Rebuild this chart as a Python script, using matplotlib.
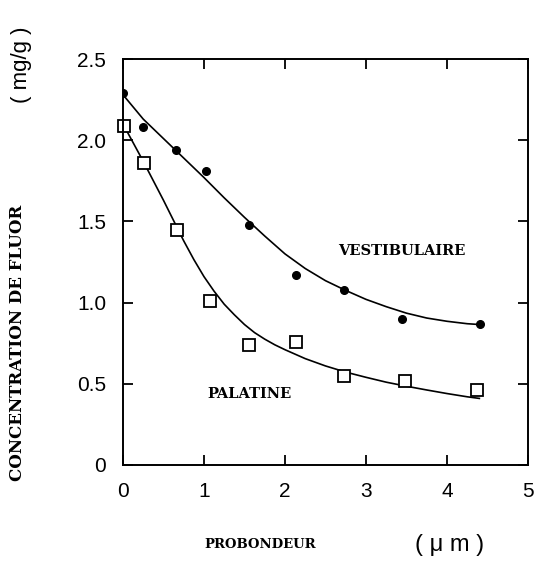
import numpy as np
import matplotlib
matplotlib.use("Agg")
import matplotlib.pyplot as plt

# mesures (points)
x_vest = [0.0, 0.25, 0.65, 1.03, 1.55, 2.13, 2.73, 3.45, 4.41]
y_vest = [2.29, 2.08, 1.94, 1.81, 1.48, 1.17, 1.08, 0.90, 0.87]

x_pal = [0.01, 0.26, 0.67, 1.07, 1.56, 2.14, 2.73, 3.48, 4.37]
y_pal = [2.09, 1.86, 1.45, 1.01, 0.74, 0.76, 0.55, 0.52, 0.46]

# courbes lissees
x_curve_vest = [0.0, 0.25, 0.5, 0.75, 1.0, 1.25, 1.5, 1.75, 2.0, 2.25,
                2.5, 2.75, 3.0, 3.25, 3.5, 3.75, 4.0, 4.25, 4.4]
y_curve_vest = [2.28, 2.13, 2.01, 1.89, 1.77, 1.645, 1.525, 1.41, 1.30, 1.21,
                1.135, 1.075, 1.02, 0.975, 0.935, 0.905, 0.885, 0.87, 0.865]

x_curve_pal = [0.0, 0.125, 0.25, 0.375, 0.5, 0.625, 0.75, 0.875, 1.0, 1.125,
               1.25, 1.375, 1.5, 1.625, 1.75, 1.875, 2.0, 2.25, 2.5, 2.75,
               3.0, 3.25, 3.5, 3.75, 4.0, 4.25, 4.4]
y_curve_pal = [2.10, 1.985, 1.87, 1.75, 1.63, 1.505, 1.38, 1.265, 1.16, 1.07,
               0.99, 0.925, 0.865, 0.815, 0.775, 0.74, 0.71, 0.655, 0.61, 0.572,
               0.54, 0.51, 0.485, 0.462, 0.44, 0.42, 0.41]

x_ticks = [0, 1, 2, 3, 4, 5]
y_ticks = [0, 0.5, 1.0, 1.5, 2.0, 2.5]
y_tick_labels = ["0", "0.5", "1.0", "1.5", "2.0", "2.5"]

fig = plt.figure(figsize=(5.34, 5.62), dpi=100)
ax = fig.add_axes([0.2303, 0.1726, 0.7584, 0.7224])

ax.plot(x_curve_vest, y_curve_vest, color="black", lw=1.2)
ax.plot(x_curve_pal, y_curve_pal, color="black", lw=1.2)
ax.plot(x_vest, y_vest, "o", color="black", markersize=5.5)
ax.plot(x_pal, y_pal, "s", markerfacecolor="white", markeredgecolor="black",
        markersize=9, markeredgewidth=1.3, clip_on=False)

ax.set_xlim(0, 5)
ax.set_ylim(0, 2.5)
ax.set_xticks(x_ticks)
ax.set_yticks(y_ticks)
ax.set_yticklabels(y_tick_labels)
ax.tick_params(direction="in", length=7, width=1.3, top=True, right=True,
               labelsize=15, pad=12)
for lab in ax.get_xticklabels() + ax.get_yticklabels():
    lab.set_family("Liberation Sans")
for s in ax.spines.values():
    s.set_linewidth(1.4)

serif = dict(family="DejaVu Serif", fontweight="bold", fontsize=10.5)
ax.text(3.44, 1.32, "VESTIBULAIRE", ha="center", va="center", **serif)
ax.text(1.56, 0.44, "PALATINE", ha="center", va="center", **serif)

fig.text(18 / 534, 1 - 343 / 562, "CONCENTRATION DE FLUOR", rotation=90,
         ha="center", va="center", family="DejaVu Serif", fontweight="bold",
         fontsize=12)
fig.text(22 / 534, 1 - 65 / 562, "( mg/g )", rotation=90, ha="center",
         va="center", family="Liberation Sans", fontsize=16)
fig.text(260 / 534, 1 - 545 / 562, "PROBONDEUR", ha="center", va="center",
         family="DejaVu Serif", fontweight="bold", fontsize=9.5)
fig.text(450 / 534, 1 - 545 / 562, "( \u03bc m )", ha="center", va="center",
         family="Liberation Sans", fontsize=17)

fig.savefig("out.png", dpi=100)
